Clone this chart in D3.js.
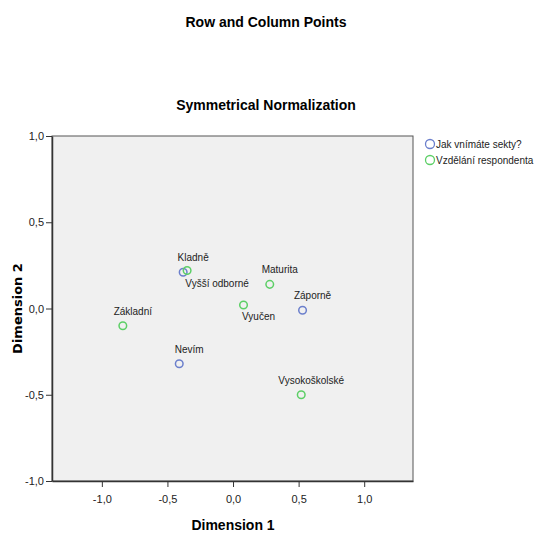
<!DOCTYPE html>
<html>
<head>
<meta charset="utf-8">
<script src="https://cdn.jsdelivr.net/npm/d3@7"></script>
<style>
  body { margin: 0; background: #fff; }
  text { font-family: "Liberation Sans", Arial, sans-serif; }
</style>
</head>
<body>
<script>
// row points (Jak vnímáte sekty?) and column points (Vzdělání respondenta)
var rowLabels = ["Kladně", "Záporně", "Nevím"];
var rowDim1 = [-0.38, 0.53, -0.41];
var rowDim2 = [0.21, -0.01, -0.32];

var colLabels = ["Základní", "Vyučen", "Maturita", "Vyšší odborné", "Vysokoškolské"];
var colDim1 = [-0.84, 0.08, 0.28, -0.35, 0.52];
var colDim2 = [-0.10, 0.02, 0.14, 0.22, -0.50];

var seriesNames = ["Jak vnímáte sekty?", "Vzdělání respondenta"];
var ticks = [-1.0, -0.5, 0.0, 0.5, 1.0];

var width = 534, height = 533;
var plotLeft = 52, plotRight = 413, plotTop = 136, plotBottom = 481;
var colors = ["#6b7fcc", "#5ccf66"];

// where each label sits relative to its point
var labelShift = {
    "Vyšší odborné": [30, 16],
    "Vyučen": [15, 15]
};

var fmt = function (d) { return d3.format(".1f")(d).replace(".", ",").replace("\u2212", "-"); };

var x = d3.scaleLinear().domain([-1.38, 1.372]).range([plotLeft, plotRight]);
var y = d3.scaleLinear().domain([-1, 1]).range([plotBottom, plotTop]);

var svg = d3.select("body").append("svg")
    .attr("width", width)
    .attr("height", height);

svg.append("rect")
    .attr("x", plotLeft).attr("y", plotTop)
    .attr("width", plotRight - plotLeft).attr("height", plotBottom - plotTop)
    .attr("fill", "#f0f0f0")
    .attr("stroke", "#555")
    .attr("stroke-width", 1);

var xAxis = svg.append("g")
    .attr("transform", "translate(0," + plotBottom + ")")
    .call(d3.axisBottom(x).tickValues(ticks).tickFormat(fmt).tickSize(6).tickPadding(8).tickSizeOuter(0));
var yAxis = svg.append("g")
    .attr("transform", "translate(" + plotLeft + ",0)")
    .call(d3.axisLeft(y).tickValues(ticks).tickFormat(fmt).tickSize(6).tickPadding(2).tickSizeOuter(0));

[xAxis, yAxis].forEach(function (g) {
    g.select(".domain").attr("stroke", "#333").attr("stroke-width", 1.5);
    g.selectAll(".tick line").attr("stroke", "#333");
    g.selectAll(".tick text")
        .attr("fill", "#222")
        .style("font-family", "'Liberation Sans', Arial, sans-serif")
        .style("font-size", "11px");
});

var points = [];
rowLabels.forEach(function (l, i) {
    points.push({ label: l, d1: rowDim1[i], d2: rowDim2[i], s: 0 });
});
colLabels.forEach(function (l, i) {
    points.push({ label: l, d1: colDim1[i], d2: colDim2[i], s: 1 });
});

svg.selectAll("circle.pt")
    .data(points)
    .enter()
    .append("circle")
    .attr("class", "pt")
    .attr("cx", function (d) { return x(d.d1); })
    .attr("cy", function (d) { return y(d.d2); })
    .attr("r", 3.8)
    .attr("fill", "none")
    .attr("stroke", function (d) { return colors[d.s]; })
    .attr("stroke-width", 1.5);

svg.selectAll("text.lbl")
    .data(points)
    .enter()
    .append("text")
    .attr("class", "lbl")
    .attr("x", function (d) { return x(d.d1) + (labelShift[d.label] ? labelShift[d.label][0] : 10); })
    .attr("y", function (d) { return y(d.d2) + (labelShift[d.label] ? labelShift[d.label][1] : -11); })
    .attr("text-anchor", "middle")
    .attr("font-size", "10px")
    .attr("fill", "#222")
    .text(function (d) { return d.label; });

// titles
svg.append("text")
    .attr("x", 266).attr("y", 27)
    .attr("text-anchor", "middle")
    .attr("font-size", "14px").attr("font-weight", "bold")
    .text("Row and Column Points");
svg.append("text")
    .attr("x", 266).attr("y", 110)
    .attr("text-anchor", "middle")
    .attr("font-size", "14px").attr("font-weight", "bold")
    .text("Symmetrical Normalization");

svg.append("text")
    .attr("x", x(0)).attr("y", 530)
    .attr("text-anchor", "middle")
    .attr("font-size", "14px").attr("font-weight", "bold")
    .text("Dimension 1");
svg.append("text")
    .attr("transform", "translate(22," + y(0) + ") rotate(-90)")
    .attr("text-anchor", "middle")
    .style("font-family", "'DejaVu Sans', Verdana, sans-serif")
    .attr("font-size", "13px").attr("font-weight", "bold")
    .text("Dimension 2");

// legend
var legend = svg.selectAll("g.leg")
    .data(seriesNames)
    .enter()
    .append("g")
    .attr("class", "leg")
    .attr("transform", function (d, i) { return "translate(430," + (144 + i * 16) + ")"; });
legend.append("circle")
    .attr("r", 4.5)
    .attr("fill", "none")
    .attr("stroke", function (d, i) { return colors[i]; })
    .attr("stroke-width", 1.3);
legend.append("text")
    .attr("x", 6).attr("y", 4)
    .attr("font-size", "10px")
    .attr("fill", "#222")
    .text(function (d) { return d; });
</script>
</body>
</html>
